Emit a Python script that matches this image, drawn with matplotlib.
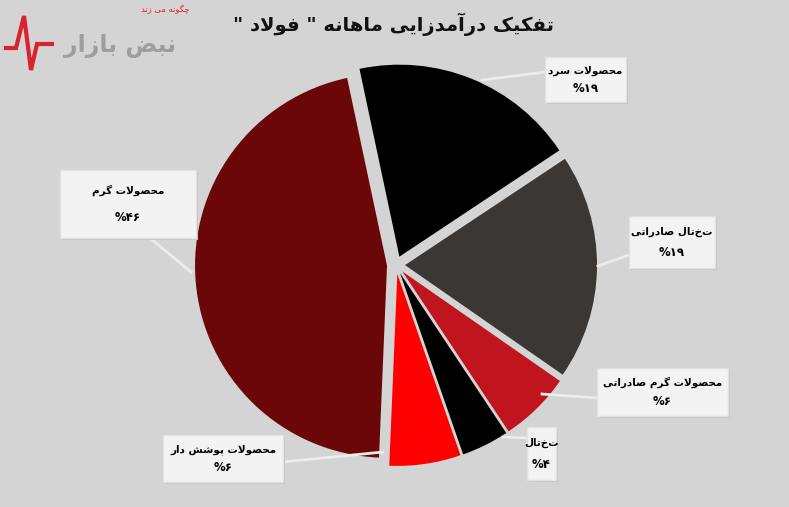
import matplotlib
matplotlib.use("Agg")
import matplotlib.pyplot as plt
from matplotlib.patches import Rectangle

# data (clockwise from top)
names = ["محصولات سرد", "تختال صادراتی", "محصولات گرم صادراتی",
         "تختال", "محصولات پوشش دار", "محصولات گرم"]
shares = [19, 19, 6, 4, 6, 46]
colors = ["#000000", "#3b3735", "#c0141e", "#000000", "#ff0000", "#6b0709"]
title = 'تفکیک درآمدزایی ماهانه " فولاد "'

# box (x0, x1, y0, y1 in pixels from top) and leader end point
boxes = [(545, 626, 57, 102), (629, 715, 216, 268), (597, 728, 368, 416),
         (527, 556, 427, 480), (163, 283, 435, 482), (60, 196, 170, 238)]
leaders = [((545, 72), (482, 80)), ((629, 255), (598, 266)), ((597, 398), (542, 394)),
           ((527, 438), (503, 437)), ((283, 462), (383, 452)), ((150, 238), (191, 272))]

# --- minimal arabic shaping (presentation forms), no external libs ---
forms = {
    'ا': ('\uFE8D', '\uFE8E'), 'آ': ('\uFE81', '\uFE82'), 'د': ('\uFEA9', '\uFEAA'),
    'ر': ('\uFEAD', '\uFEAE'), 'ز': ('\uFEAF', '\uFEB0'), 'و': ('\uFEED', '\uFEEE'),
    'ت': ('\uFE95', '\uFE96', '\uFE97', '\uFE98'), 'ح': ('\uFEA1', '\uFEA2', '\uFEA3', '\uFEA4'),
    'س': ('\uFEB1', '\uFEB2', '\uFEB3', '\uFEB4'), 'ش': ('\uFEB5', '\uFEB6', '\uFEB7', '\uFEB8'),
    'ص': ('\uFEB9', '\uFEBA', '\uFEBB', '\uFEBC'), 'ف': ('\uFED1', '\uFED2', '\uFED3', '\uFED4'),
    'ل': ('\uFEDD', '\uFEDE', '\uFEDF', '\uFEE0'), 'م': ('\uFEE1', '\uFEE2', '\uFEE3', '\uFEE4'),
    'ن': ('\uFEE5', '\uFEE6', '\uFEE7', '\uFEE8'), 'ه': ('\uFEE9', '\uFEEA', '\uFEEB', '\uFEEC'),
    'ک': ('\uFB8E', '\uFB8F', '\uFB90', '\uFB91'), 'گ': ('\uFB92', '\uFB93', '\uFB94', '\uFB95'),
    'پ': ('\uFB56', '\uFB57', '\uFB58', '\uFB59'), 'ی': ('\uFBFC', '\uFBFD', '\uFBFE', '\uFBFF'),
    'ب': ('\uFE8F', '\uFE90', '\uFE91', '\uFE92'), 'ض': ('\uFEBD', '\uFEBE', '\uFEBF', '\uFEC0'),
    'چ': ('\uFB7A', '\uFB7B', '\uFB7C', '\uFB7D'),
}


def shape(s):
    # lam-alef ligature first
    chars = []
    i = 0
    while i < len(s):
        if s[i] == 'ل' and i + 1 < len(s) and s[i + 1] == 'ا':
            chars.append('LA')
            i += 2
        else:
            chars.append(s[i])
            i += 1
    out = []
    for i, c in enumerate(chars):
        prev = chars[i - 1] if i > 0 else None
        nxt = chars[i + 1] if i + 1 < len(chars) else None
        joins_prev = prev in forms and len(forms[prev]) == 4
        if c == 'LA':
            out.append('\uFEFC' if joins_prev else '\uFEFB')
            continue
        if c not in forms:
            out.append(c)
            continue
        f = forms[c]
        joins_next = len(f) == 4 and (nxt in forms or nxt == 'LA')
        if joins_prev and joins_next:
            out.append(f[3])
        elif joins_prev:
            out.append(f[1])
        elif joins_next:
            out.append(f[2])
        else:
            out.append(f[0])
    return ''.join(out)[::-1]


def fa_digits(n):
    return str(n).translate(str.maketrans("0123456789", "۰۱۲۳۴۵۶۷۸۹"))


W, H = 789, 507
fig = plt.figure(figsize=(W / 100, H / 100), dpi=100)
fig.patch.set_facecolor("#d4d4d4")
ax = fig.add_axes([0, 0, 1, 1])
ax.set_facecolor("#d4d4d4")

cx, cy, r = 396, H - 265, 192
ax.pie(shares, colors=colors, startangle=102, counterclock=False,
       explode=[9] * len(shares), radius=r, center=(cx, cy),
       wedgeprops=dict(linewidth=0))

for (x0, x1, y0, y1), (p0, p1) in zip(boxes, leaders):
    ax.plot([p0[0], p1[0]], [H - p0[1], H - p1[1]], color="#ececec", lw=2, zorder=3)

for name, val, (x0, x1, y0, y1) in zip(names, shares, boxes):
    ax.add_patch(Rectangle((x0 + 2, H - y1 - 2), x1 - x0, y1 - y0,
                           facecolor="#c4c4c4", edgecolor="none", zorder=3))
    ax.add_patch(Rectangle((x0, H - y1), x1 - x0, y1 - y0,
                           facecolor="#f3f3f3", edgecolor="#e2e2e2", lw=1, zorder=4))
    xm = (x0 + x1) / 2
    h = y1 - y0
    ax.text(xm, H - (y0 + h * 0.3), shape(name), ha="center", va="center",
            fontsize=7.5, fontweight="bold", family="DejaVu Sans", zorder=5)
    ax.text(xm, H - (y0 + h * 0.7), "%" + fa_digits(val), ha="center", va="center",
            fontsize=8.5, fontweight="bold", family="DejaVu Sans", zorder=5)

ax.text(394, H - 24, shape(title), ha="center", va="center", fontsize=14,
        fontweight="bold", family="DejaVu Sans", color="#111111")

# logo, top-left
ax.plot([6, 16, 24, 31, 37, 44, 52], [H - 48, H - 48, H - 16, H - 70, H - 44, H - 44, H - 44],
        color="#d9232d", lw=3, solid_joinstyle="miter")
ax.text(120, H - 46, shape("نبض بازار"), ha="center", va="center", fontsize=17,
        fontweight="bold", family="DejaVu Sans", color="#9e9e9e")
ax.text(165, H - 10, shape("چگونه می زند"), ha="center", va="center", fontsize=6,
        family="DejaVu Sans", color="#d9232d")

ax.set_xlim(0, W)
ax.set_ylim(0, H)
ax.set_aspect("equal")
ax.axis("off")
fig.savefig("out.png", dpi=100, facecolor=fig.get_facecolor())
